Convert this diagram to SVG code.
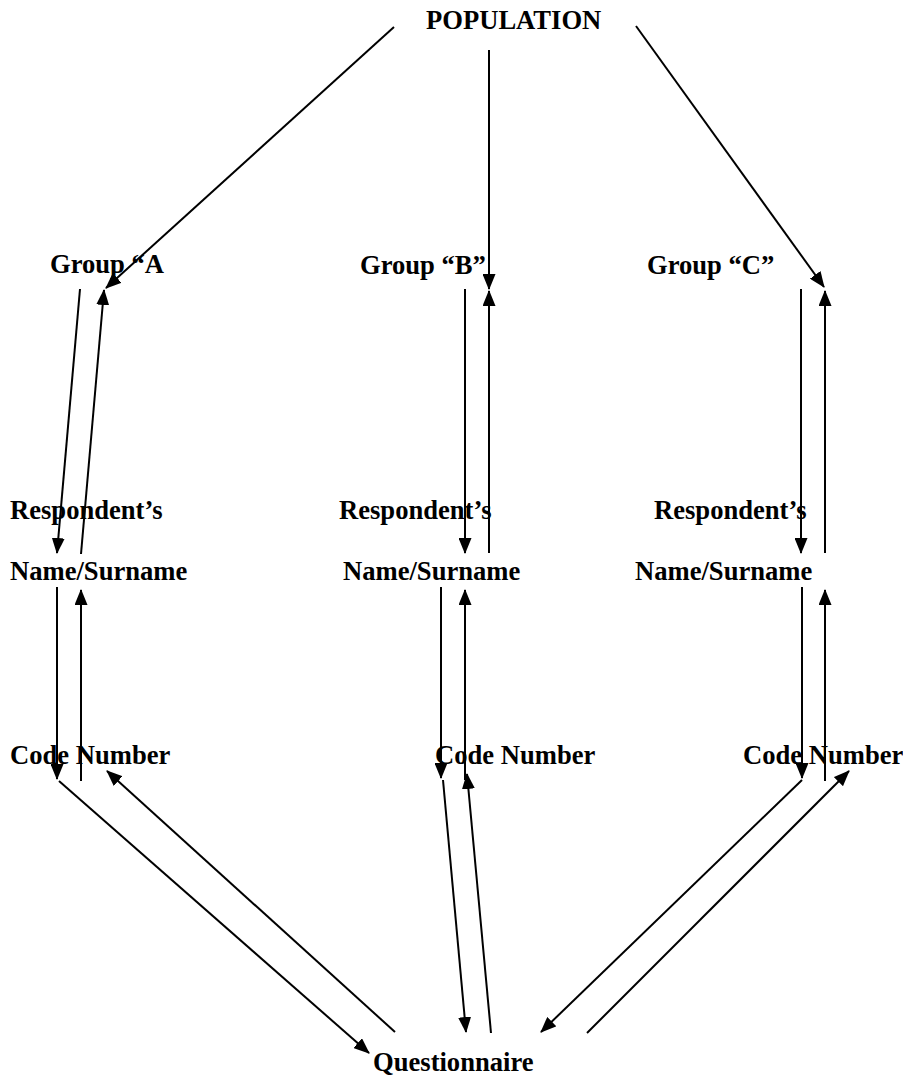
<svg xmlns="http://www.w3.org/2000/svg" width="903" height="1078" viewBox="0 0 903 1078">
<style>
.t{font-family:"Liberation Serif","Times New Roman",serif;font-weight:bold;font-size:26.6px;fill:#000}
.c line{stroke:#000;stroke-width:2;fill:none;marker-end:url(#ah)}
</style>
<defs>
<marker id="ah" markerUnits="userSpaceOnUse" markerWidth="16" markerHeight="13" refX="15" refY="6.5" orient="auto" viewBox="0 0 16 13">
<path d="M0,0 L16,6.5 L0,13 z" fill="#000"/>
</marker>
</defs>
<rect width="903" height="1078" fill="#fff"/>
<g id="population"><text class="t" x="426" y="29">POPULATION</text></g>
<g id="groupA"><text class="t" x="50" y="273">Group “A</text></g>
<g id="groupB"><text class="t" x="360" y="274">Group “B”</text></g>
<g id="groupC"><text class="t" x="647" y="274">Group “C”</text></g>
<g id="respA"><text class="t" x="10" y="519">Respondent’s</text><text class="t" x="10" y="580">Name/Surname</text></g>
<g id="respB"><text class="t" x="339" y="519">Respondent’s</text><text class="t" x="343" y="580">Name/Surname</text></g>
<g id="respC"><text class="t" x="654" y="519">Respondent’s</text><text class="t" x="635" y="580">Name/Surname</text></g>
<g id="codeA"><text class="t" x="10" y="764">Code Number</text></g>
<g id="codeB"><text class="t" x="435" y="764">Code Number</text></g>
<g id="codeC"><text class="t" x="743" y="764">Code Number</text></g>
<g id="questionnaire"><text class="t" x="373" y="1071">Questionnaire</text></g>
<g id="connectors" class="c">
<line x1="394" y1="27" x2="106" y2="288"/>
<line x1="489" y1="50" x2="489" y2="289"/>
<line x1="636" y1="26" x2="824" y2="287"/>
<line x1="80" y1="289" x2="57" y2="553"/>
<line x1="81" y1="554" x2="104" y2="290"/>
<line x1="465" y1="289" x2="465" y2="553"/>
<line x1="489" y1="553" x2="489" y2="291"/>
<line x1="801" y1="289" x2="801" y2="553"/>
<line x1="825" y1="553" x2="825" y2="291"/>
<line x1="57" y1="587" x2="57" y2="779"/>
<line x1="81" y1="781" x2="81" y2="590"/>
<line x1="441" y1="587" x2="441" y2="778"/>
<line x1="465" y1="780" x2="465" y2="590"/>
<line x1="802" y1="587" x2="802" y2="778"/>
<line x1="825" y1="781" x2="825" y2="590"/>
<line x1="59" y1="781" x2="369" y2="1053"/>
<line x1="395" y1="1032" x2="107" y2="771"/>
<line x1="443" y1="780" x2="466" y2="1032"/>
<line x1="491" y1="1033" x2="467" y2="774"/>
<line x1="802" y1="780" x2="541" y2="1032"/>
<line x1="587" y1="1033" x2="849" y2="771"/>
</g>
</svg>
